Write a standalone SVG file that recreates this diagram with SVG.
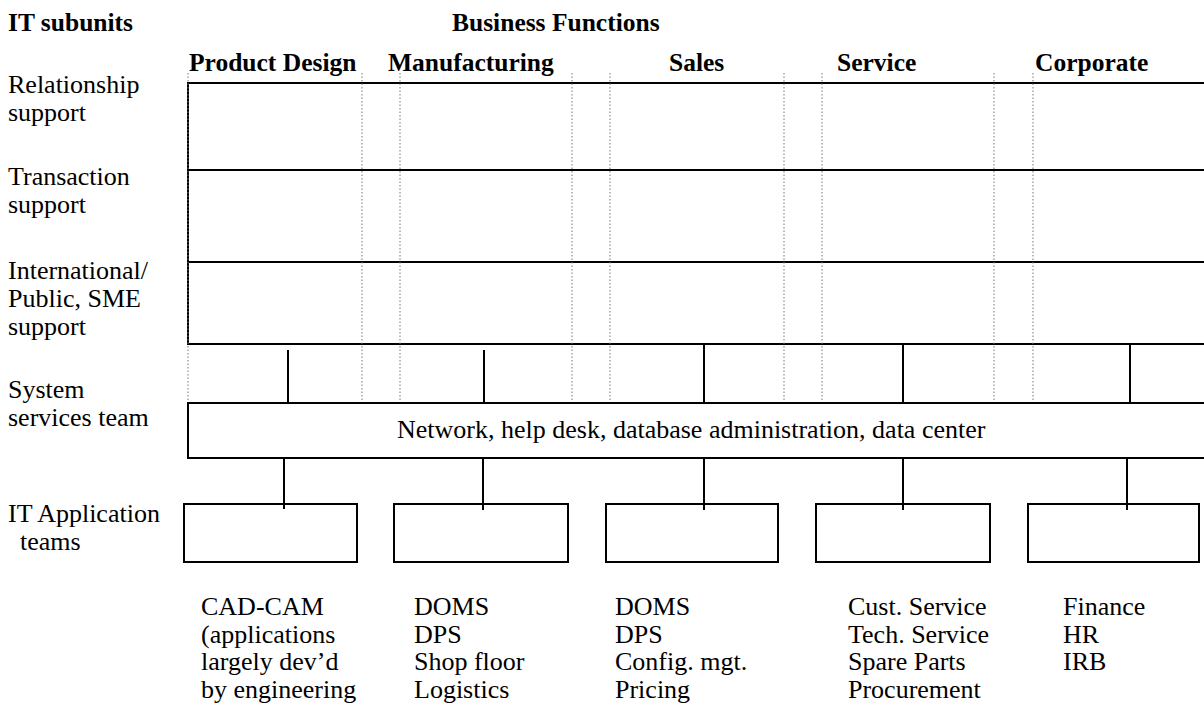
<svg xmlns="http://www.w3.org/2000/svg" width="1204" height="711" viewBox="0 0 1204 711">
<style>
text{font-family:"Liberation Serif","Times New Roman",serif;font-size:26px;fill:#000}
.b{font-weight:bold;font-size:25.5px}
.ln{stroke:#000;stroke-width:2;fill:none}
.dot{stroke:#777;stroke-width:1;stroke-dasharray:1.5 2;fill:none}
.box{stroke:#000;stroke-width:2;fill:#fff}
</style>
<rect width="1204" height="711" fill="#fff"/>
<g id="headers">
<text class="b" x="8" y="31">IT subunits</text>
<text class="b" x="452" y="31">Business Functions</text>
<text class="b" x="189" y="71">Product Design</text>
<text class="b" x="388" y="71">Manufacturing</text>
<text class="b" x="669" y="71">Sales</text>
<text class="b" x="837" y="71">Service</text>
<text class="b" x="1035" y="71">Corporate</text>
</g>
<g id="row-labels">
<text x="8" y="93">Relationship</text>
<text x="8" y="121">support</text>
<text x="8" y="185">Transaction</text>
<text x="8" y="213">support</text>
<text x="8" y="279">International/</text>
<text x="8" y="307">Public, SME</text>
<text x="8" y="335">support</text>
<text x="8" y="398">System</text>
<text x="8" y="426">services team</text>
<text x="8" y="522">IT Application</text>
<text x="20" y="550">teams</text>
</g>
<g id="support-grid">
<path class="ln" d="M1210 83H188V344H1210M188 170H1210M188 262H1210"/>
</g>
<g id="dividers">
<path class="dot" d="M188 73V403M362 73V403M400 73V403M572 73V403M610 73V403M784 73V403M822 73V403M994 73V403M1033 73V403"/>
</g>
<g id="system-services">
<path class="box" d="M1210 403H188V458H1210"/>
<text x="397" y="438">Network, help desk, database administration, data center</text>
</g>
<g id="connectors">
<path class="ln" d="M288 350V403M484 350V403M704 344V403M903 344V403M1130 344V403"/>
<path class="ln" d="M284 458V509M483 458V510M704 458V510M903 458V510M1127 458V510"/>
</g>
<g id="app-product-design">
<rect class="box" x="184" y="504" width="173" height="58"/>
<text x="201" y="615">CAD-CAM</text>
<text x="201" y="643">(applications</text>
<text x="201" y="670">largely dev’d</text>
<text x="201" y="698">by engineering</text>
</g>
<g id="app-manufacturing">
<rect class="box" x="394" y="504" width="174" height="58"/>
<text x="414" y="615">DOMS</text>
<text x="414" y="643">DPS</text>
<text x="414" y="670">Shop floor</text>
<text x="414" y="698">Logistics</text>
</g>
<g id="app-sales">
<rect class="box" x="606" y="504" width="172" height="58"/>
<text x="615" y="615">DOMS</text>
<text x="615" y="643">DPS</text>
<text x="615" y="670">Config. mgt.</text>
<text x="615" y="698">Pricing</text>
</g>
<g id="app-service">
<rect class="box" x="816" y="504" width="174" height="58"/>
<text x="848" y="615">Cust. Service</text>
<text x="848" y="643">Tech. Service</text>
<text x="848" y="670">Spare Parts</text>
<text x="848" y="698">Procurement</text>
</g>
<g id="app-corporate">
<rect class="box" x="1028" y="504" width="171" height="58"/>
<text x="1063" y="615">Finance</text>
<text x="1063" y="643">HR</text>
<text x="1063" y="670">IRB</text>
</g>
<g id="connectors-front">
<path class="ln" d="M284 504V509M483 504V510M704 504V510M903 504V510M1127 504V510"/>
</g>
</svg>
